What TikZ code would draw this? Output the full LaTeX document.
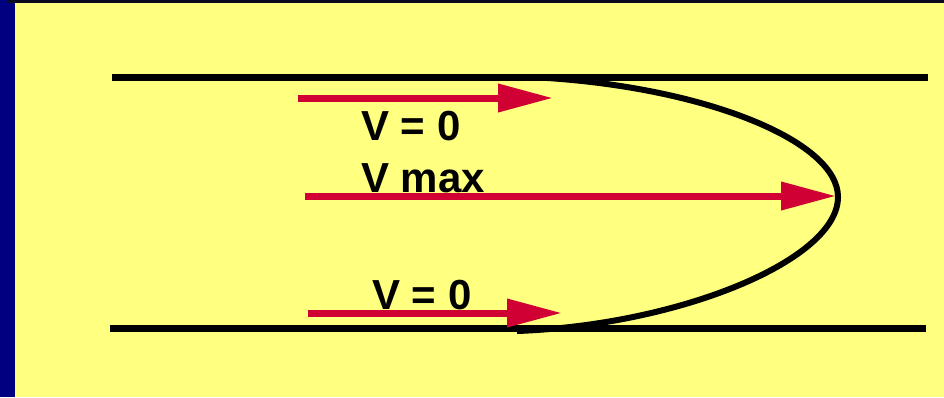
\documentclass[tikz,border=0pt]{standalone}
\usepackage{fontspec}
\setmainfont{Liberation Sans}
\usetikzlibrary{arrows.meta}
\definecolor{navy}{RGB}{0,0,128}
\definecolor{paper}{RGB}{255,255,128}
\definecolor{flowred}{RGB}{208,0,52}
\definecolor{topdark}{RGB}{10,10,30}
\tikzset{
  wall/.style={line width=7pt, black},
  flow/.style={line width=7pt, flowred, -{Triangle[length=55pt,width=27pt]}},
  profile/.style={line width=6pt, black},
  lbl/.style={font=\fontsize{42}{42}\selectfont\bfseries, inner sep=0pt, anchor=base west}
}
\begin{document}
\begin{tikzpicture}[x=1pt,y=-1pt]
\useasboundingbox (0,0) rectangle (944,397);
\fill[navy] (0,0) rectangle (944,397);
\fill[paper] (15,3) rectangle (944,397);
\fill[topdark] (8,0) rectangle (944,3);
% walls
\coordinate (tw1) at (112,77);
\coordinate (tw2) at (928,77);
\coordinate (bw1) at (110,328);
\coordinate (bw2) at (926,328);
\draw[wall] (tw1) -- (tw2);
\draw[wall] (bw1) -- (bw2);
% arrows
\coordinate (a1s) at (298,98);
\coordinate (a1e) at (553,98);
\coordinate (a2s) at (305,196);
\coordinate (a2e) at (836,196);
\coordinate (a3s) at (308,313);
\coordinate (a3e) at (562,313);
\draw[flow] (a1s) -- (a1e);
\draw[flow] (a2s) -- (a2e);
\draw[flow] (a3s) -- (a3e);
% velocity profile
\coordinate (pt) at (530,77);
\coordinate (tip) at (838,197);
\coordinate (pb) at (517,331);
\draw[profile] (pt) .. controls (700,85) and (838,140) .. (tip)
  .. controls (838,260) and (680,325) .. (pb);
% labels
\node[lbl] (l1) at (361,140) {V = 0};
\node[lbl] (l2) at (361,192) {V max};
\node[lbl] (l3) at (372,309) {V = 0};
\end{tikzpicture}
\end{document}
